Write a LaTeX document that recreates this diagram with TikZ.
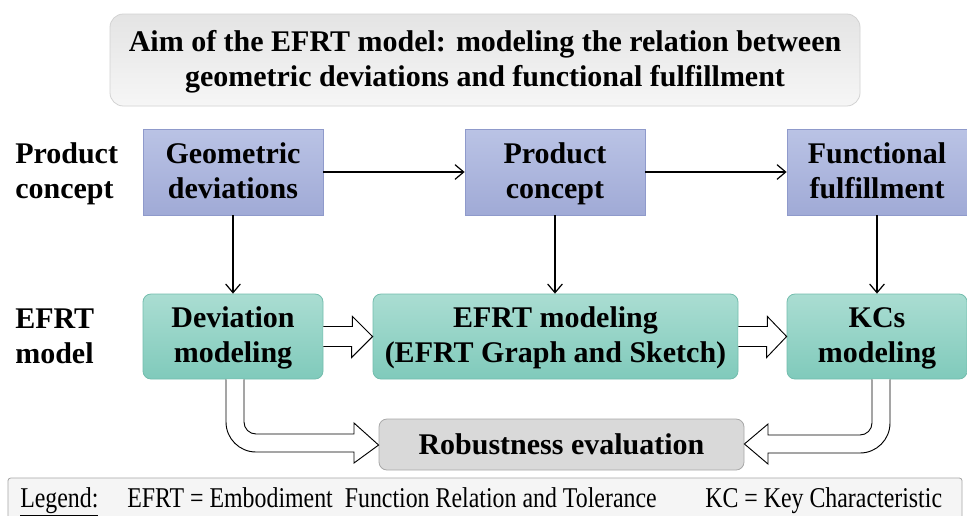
\documentclass[tikz,border=0pt]{standalone}
\usepackage{fontspec}
\setmainfont{Liberation Serif}
\usetikzlibrary{arrows.meta,calc}

\definecolor{blueTop}{HTML}{BAC3E5}
\definecolor{blueBot}{HTML}{A0AAD6}
\definecolor{blueEdge}{HTML}{8F9ACB}
\definecolor{tealTop}{HTML}{AADDD2}
\definecolor{tealBot}{HTML}{80CABB}
\definecolor{tealEdge}{HTML}{73BDAD}
\definecolor{titleTop}{HTML}{E4E4E4}
\definecolor{titleBot}{HTML}{F6F6F6}
\definecolor{titleEdge}{HTML}{D2D2D2}
\definecolor{robFill}{HTML}{D9D9D9}
\definecolor{robEdge}{HTML}{A8A8A8}
\definecolor{legFill}{HTML}{F5F5F5}
\definecolor{legEdge}{HTML}{A6A6A6}

% two-line label with a fixed height, so all boxes share the same baselines
\newcommand{\linestrut}{\rule[-5.5pt]{0pt}{23.75pt}}
\newcommand{\twolines}[2]{\linestrut#1\\#2\linestrut}

\tikzset{
  boxfont/.style={font=\fontsize{22.5}{26.25}\selectfont\bfseries, align=center, inner sep=0pt},
  conceptbox/.style={boxfont, draw=blueEdge, line width=0.6pt,
    top color=blueTop, bottom color=blueBot,
    minimum width=135pt, minimum height=64.5pt},
  modelbox/.style={boxfont, draw=tealEdge, line width=0.6pt,
    top color=tealTop, bottom color=tealBot, rounded corners=6pt,
    minimum height=63.75pt},
  rowlabel/.style={boxfont, align=left},
  flow/.style={draw=black, line width=0.9pt, -{Straight Barb[length=6.5pt,width=11pt,line width=0.9pt]}},
  hollow/.style={draw=black, fill=white, line width=0.7pt, line join=miter},
  legendtext/.style={font=\fontsize{17.9}{20}\selectfont, inner sep=0pt, anchor=base west}
}

\begin{document}
\begin{tikzpicture}[x=0.75pt,y=-0.75pt]
  \clip (0,0) rectangle (967,515);
  \fill[white] (0,0) rectangle (967,515);

  % aim of the model
  \node[boxfont, draw=titleEdge, line width=0.6pt, top color=titleTop, bottom color=titleBot,
        rounded corners=10pt, minimum width=562.5pt, minimum height=69pt]
    (aim) at (485,60) {\twolines{Aim of the EFRT model: modeling the relation between}{geometric deviations and functional fulfillment}};

  % row labels
  \node[rowlabel, anchor=west] (lblconcept) at (15,172) {\twolines{Product}{concept}};
  \node[rowlabel, anchor=west] (lblmodel) at (15,337) {\twolines{EFRT}{model}};

  % product concept row
  \node[conceptbox] (geo) at (233,172) {\twolines{Geometric}{deviations}};
  \node[conceptbox] (prod) at (555,172) {\twolines{Product}{concept}};
  \node[conceptbox] (func) at (877,172) {\twolines{Functional}{fulfillment}};

  % EFRT model row
  \node[modelbox, minimum width=135pt] (dev) at (233,336.5) {\twolines{Deviation}{modeling}};
  \node[modelbox, minimum width=273.75pt] (efrt) at (555.5,336.5) {\twolines{EFRT modeling}{(EFRT Graph and Sketch)}};
  \node[modelbox, minimum width=135pt] (kcs) at (877,336.5) {\twolines{KCs}{modeling}};

  % evaluation
  \node[boxfont, draw=robEdge, line width=0.6pt, fill=robFill, rounded corners=6pt,
        minimum width=273.75pt, minimum height=38.25pt]
    (rob) at (561.5,444.5) {Robustness evaluation};

  % thin arrows
  \draw[flow] (geo) -- (prod);
  \draw[flow] (prod) -- (func);
  \draw[flow] (geo) -- (dev);
  \draw[flow] (prod.south) -- (prod.south |- efrt.north);
  \draw[flow] (func) -- (kcs);

  % block arrows between the model steps
  \draw[hollow] ([yshift=7.5pt]dev.east) -- ++(29,0) -- ++(0,-10) -- (efrt.west)
    -- ++(-21,21) -- ++(0,-11) -- ([yshift=-7.5pt]dev.east);
  \draw[hollow] ([yshift=7.5pt]efrt.east) -- ++(29,0) -- ++(0,-10) -- (kcs.west)
    -- ++(-20,21) -- ++(0,-11) -- ([yshift=-7.5pt]efrt.east);

  % bent block arrows into the evaluation
  \draw[hollow] ([xshift=-5.25pt]dev.south) -- (226,422)
    .. controls (226,438.57) and (239.43,452) .. (256,452) -- (354,452) -- (354,463)
    -- ([yshift=-0.4pt]rob.west) -- (354,423) -- (354,434) -- (256,434)
    .. controls (249.37,434) and (244,428.63) .. (244,422) -- ([xshift=8.25pt]dev.south);
  \draw[hollow] ([xshift=9.75pt]kcs.south) -- (890,423)
    .. controls (890,439.57) and (876.57,453) .. (860,453) -- (768,453) -- (768,464)
    -- ([yshift=0.4pt]rob.east) -- (768,424) -- (768,435) -- (860,435)
    .. controls (866.63,435) and (872,429.63) .. (872,423) -- ([xshift=-3.75pt]kcs.south);

  % legend
  \draw[draw=legEdge, fill=legFill, line width=0.6pt, rounded corners=2pt]
    (8,478) rectangle (962,530);
  \node[legendtext] (leg) at (20,507) {\scalebox{1}[1.2]{\underline{Legend:}}};
  \node[legendtext] (legefrt) at (127,507) {\scalebox{1}[1.2]{EFRT = Embodiment\ \ Function Relation and Tolerance}};
  \node[legendtext] (legkc) at (705,507) {\scalebox{1}[1.2]{KC = Key Characteristic}};
\end{tikzpicture}
\end{document}
